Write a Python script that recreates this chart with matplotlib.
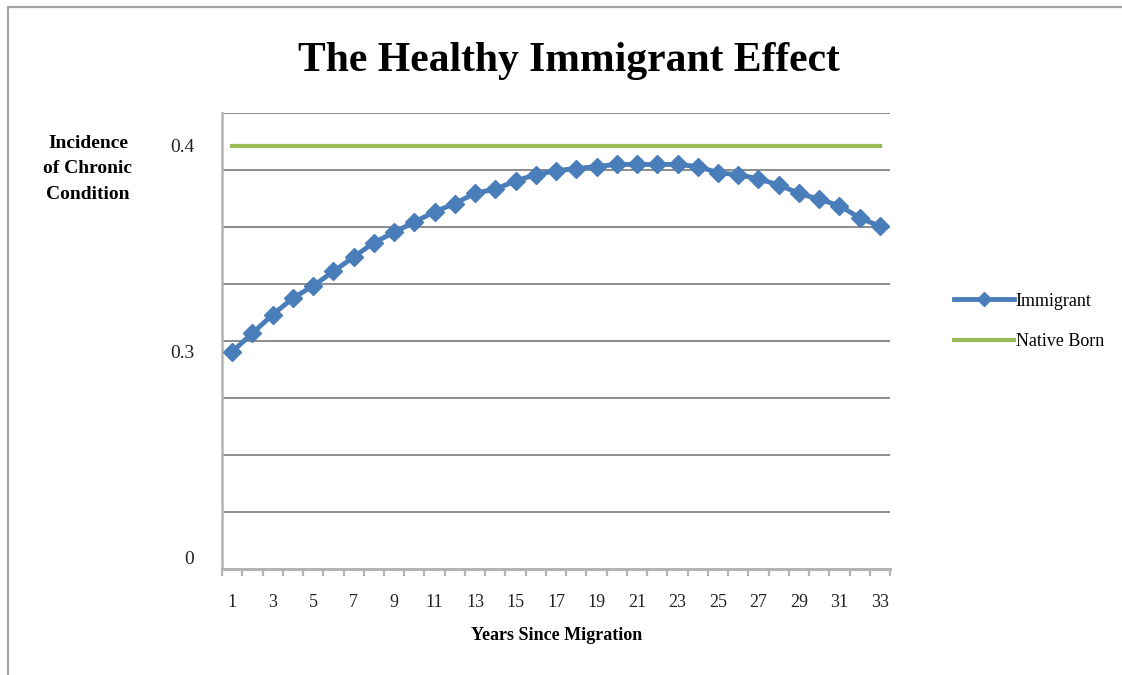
import numpy as np
import matplotlib.pyplot as plt
from matplotlib.patches import Rectangle

# years since migration and incidence of chronic condition
years = np.arange(1, 34)
immigrant = [0.300, 0.309, 0.318, 0.326, 0.332, 0.339, 0.346, 0.353, 0.358, 0.363,
             0.368, 0.372, 0.377, 0.379, 0.383, 0.386, 0.388, 0.389, 0.390, 0.391,
             0.391, 0.391, 0.391, 0.390, 0.387, 0.386, 0.384, 0.381, 0.377, 0.374,
             0.371, 0.365, 0.361]
native_born = [0.4] * len(years)

y_ticks = [0.2, 0.3, 0.4]
y_tick_labels = ['0', '0.3', '0.4']
x_tick_labels = [str(v) for v in range(1, 34, 2)]

blue = '#4a7ebb'
green = '#9bbb59'
grid_col = '#8c8c8c'
axis_col = '#b4b4b4'
serif = 'Liberation Serif'

fig = plt.figure(figsize=(11.22, 6.75), dpi=100)

# outer chart frame (top and left edges show)
fig.patches.append(Rectangle((0.0075, -0.05), 1.2, 1.04, transform=fig.transFigure,
                             fill=False, edgecolor='#a6a6a6', linewidth=1.6))

ax = fig.add_axes([0.1979, 0.157, 0.5954, 0.6756])

ax.plot(years, native_born, color=green, linewidth=3, label='Native Born', zorder=3)
ax.plot(years, immigrant, color=blue, linewidth=3.5, marker='D', markersize=9,
        label='Immigrant', zorder=4)

ylo, yhi = 0.1944, 0.4160
ax.set_ylim(ylo, yhi)
ax.set_xlim(0.5, 33.5)

# horizontal gridlines split the plot area in 8 equal bands
ax.set_yticks(np.linspace(ylo, yhi, 9), minor=True)
ax.yaxis.grid(True, which='minor', color=grid_col, linewidth=1.4)
ax.tick_params(axis='y', which='minor', length=0)
ax.set_yticks(y_ticks)
ax.set_yticklabels(y_tick_labels, fontfamily=serif, fontsize=14, color='#222222')
ax.tick_params(axis='y', which='major', length=0, pad=20)

ax.set_xticks(np.arange(0.5, 34, 1.0), minor=True)
ax.set_xticks(np.arange(1, 34, 2))
ax.set_xticklabels(x_tick_labels, fontfamily=serif, fontsize=13, color='#222222')
ax.tick_params(axis='x', which='major', length=0, pad=18)
ax.tick_params(axis='x', which='minor', length=5, width=1.6, color=axis_col)

for side in ['top', 'right']:
    ax.spines[side].set_visible(False)
ax.spines['left'].set_color(axis_col)
ax.spines['left'].set_linewidth(1.8)
ax.spines['bottom'].set_color(axis_col)
ax.spines['bottom'].set_linewidth(2.2)

fig.text(0.507, 0.91, 'The Healthy Immigrant Effect', ha='center', va='center',
         fontfamily=serif, fontweight='bold', fontsize=30)
fig.text(0.0784, 0.75, 'Incidence\nof Chronic\nCondition', ha='center', va='center',
         fontfamily=serif, fontweight='bold', fontsize=14, linespacing=1.65)
fig.text(0.4964, 0.059, 'Years Since Migration', ha='center', va='center',
         fontfamily=serif, fontweight='bold', fontsize=13)

handles, labels = ax.get_legend_handles_labels()
leg = fig.legend(handles[::-1], labels[::-1], loc='center left',
                 bbox_to_anchor=(0.836, 0.524), frameon=False,
                 prop={'family': serif, 'size': 13}, handlelength=3.3,
                 handletextpad=0.1, labelspacing=1.3, markerscale=0.8)

fig.savefig('out.png', dpi=100)
